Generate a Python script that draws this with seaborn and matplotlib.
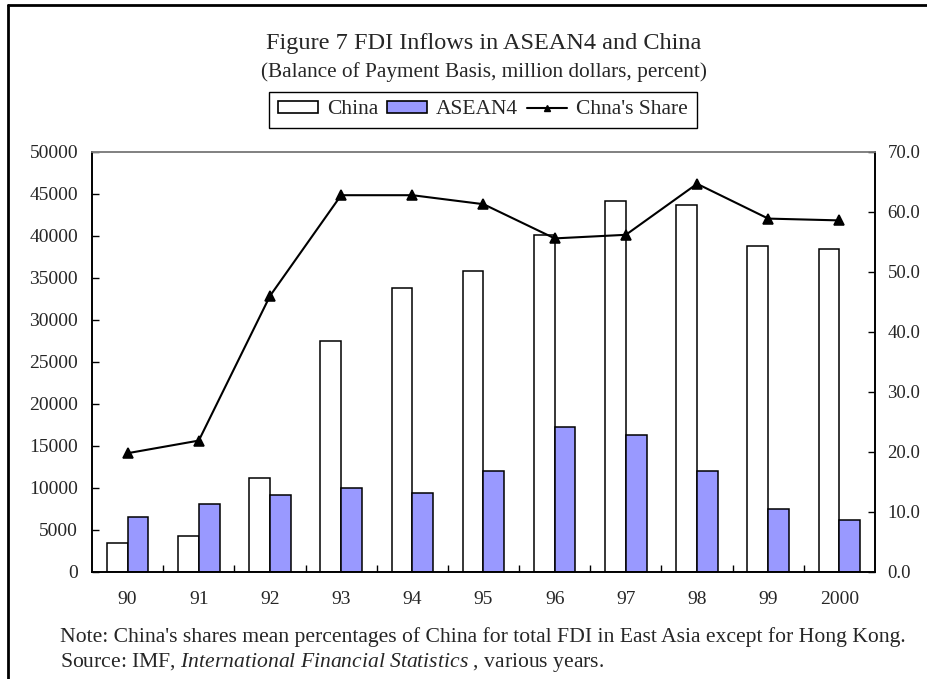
import numpy as np
import pandas as pd
import matplotlib
matplotlib.use("Agg")
import matplotlib.pyplot as plt
from matplotlib.patches import Patch
from matplotlib.lines import Line2D
import seaborn as sns

years = ["90", "91", "92", "93", "94", "95", "96", "97", "98", "99", "2000"]
china = [3500, 4300, 11200, 27500, 33800, 35800, 40100, 44200, 43700, 38800, 38400]
asean4 = [6500, 8100, 9200, 10000, 9400, 12000, 17300, 16300, 12000, 7500, 6200]
share = [19.8, 21.9, 46.0, 62.8, 62.8, 61.3, 55.6, 56.2, 64.7, 58.9, 58.6]

sns.set_theme(style="white")
plt.rcParams['font.family'] = ['Liberation Serif', 'DejaVu Serif']
plt.rcParams['mathtext.fontset'] = 'custom'
plt.rcParams['mathtext.rm'] = 'Liberation Serif'
plt.rcParams['mathtext.it'] = 'Liberation Serif:italic'

df = pd.DataFrame({
    "year": years * 2,
    "value": china + asean4,
    "series": ["China"] * len(years) + ["ASEAN4"] * len(years),
})
dfs = pd.DataFrame({"year": years, "share": share})

fig = plt.figure(figsize=(9.28, 6.79), dpi=100)
ax = fig.add_axes([92/928, 1-572/679, (875-92)/928, (572-152)/679])

sns.barplot(data=df, x="year", y="value", hue="series", order=years,
            hue_order=["China", "ASEAN4"], palette=["white", "#9999ff"],
            saturation=1, edgecolor="black", linewidth=1.1, width=0.584, gap=0,
            legend=False, ax=ax)

ax2 = ax.twinx()
sns.pointplot(data=dfs, x="year", y="share", order=years, color="black",
              markers="^", markersize=6.5, linewidth=1.5, ax=ax2)

ax.set_xlim(-0.5, len(years) - 0.5)
ax.set_ylim(0, 50000)
ax2.set_ylim(0, 70)
ax.set_yticks(np.arange(0, 50001, 5000))
ax2.set_yticks(np.arange(0, 70.1, 10))
ax2.set_yticklabels([f"{v:.1f}" for v in np.arange(0, 70.1, 10)])
ax.set_xlabel("")
ax.set_ylabel("")
ax2.set_xlabel("")
ax2.set_ylabel("")

ax.set_xticks(range(len(years)))
ax.set_xticklabels(years)
ax.set_xticks(np.arange(0.5, len(years) - 1, 1), minor=True)
ax.tick_params(axis="x", which="major", length=0, pad=14, labelsize=14)
ax.tick_params(axis="x", which="minor", length=5, width=1, direction="in", bottom=True, color="black")
ax.tick_params(axis="y", length=5, width=1, direction="in", left=True, labelsize=14, pad=10, color="black")
ax2.tick_params(axis="y", length=5, width=1, direction="in", right=True, labelsize=13.5, pad=9, color="black")

for a in (ax, ax2):
    for s in ["left", "right", "bottom"]:
        a.spines[s].set_color("black")
        a.spines[s].set_linewidth(1.2)
    a.spines["top"].set_color("#808080")
    a.spines["top"].set_linewidth(1.2)
    a.grid(False)

cx = (92 + 875) / 2 / 928
fig.text(cx, 1 - 44/679, "Figure 7 FDI Inflows in ASEAN4 and China", ha="center", va="center", fontsize=17.5)
fig.text(cx, 1 - 72/679, "(Balance of Payment Basis, million dollars, percent)", ha="center", va="center", fontsize=15.3)

handles = [Patch(facecolor="white", edgecolor="black", linewidth=1.2),
           Patch(facecolor="#9999ff", edgecolor="black", linewidth=1.2),
           Line2D([], [], color="black", marker="^", markersize=5, linewidth=1.5)]
leg = fig.legend(handles, ["China", "ASEAN4", "Chna's Share"], loc="center",
                 bbox_to_anchor=(483/928, 1 - 110/679), ncol=3, fontsize=15.5, frameon=True,
                 fancybox=False, edgecolor="black", framealpha=1, columnspacing=0.42,
                 handlelength=1.86, handleheight=0.5, handletextpad=0.42, borderpad=0.4)
leg.get_frame().set_linewidth(1.0)

fig.text(60/928, 1 - 637/679,
         "Note: China's shares mean percentages of China for total FDI in East Asia except for Hong Kong.",
         ha="left", va="center", fontsize=15.6)
fig.text(60/928, 1 - 662/679,
         r"Source: IMF, $\it{International\ Financial\ Statistics}$ , various years.",
         ha="left", va="center", fontsize=15.6)

fig.add_artist(Line2D([8/928, 1], [1 - 5/679, 1 - 5/679], color="black", linewidth=2, transform=fig.transFigure))
fig.add_artist(Line2D([8/928, 8/928], [0, 1 - 5/679], color="black", linewidth=2, transform=fig.transFigure))

fig.savefig("out.png", dpi=100)
